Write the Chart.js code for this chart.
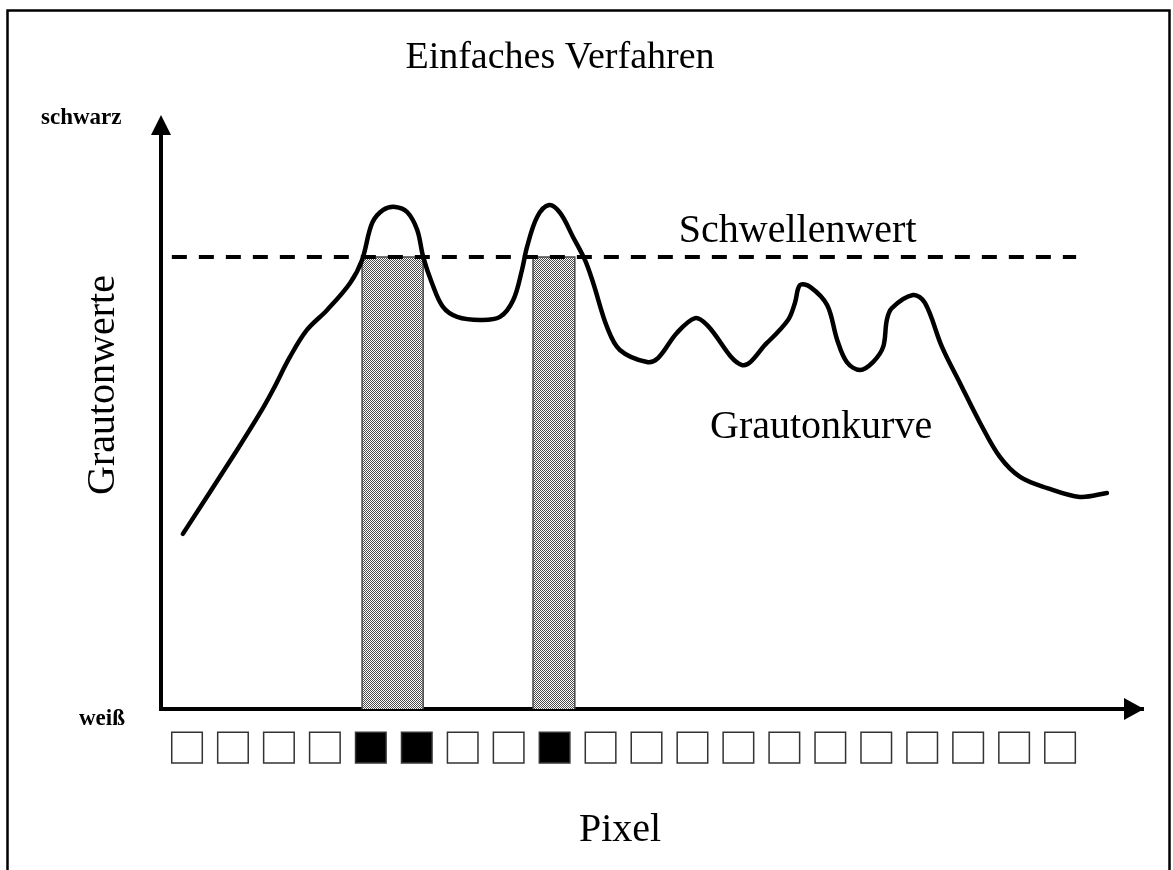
<!DOCTYPE html>
<html>
<head>
<meta charset="utf-8">
<script src="https://cdn.jsdelivr.net/npm/chart.js@4.4.1/dist/chart.umd.min.js"></script>
<style>
  html, body { margin: 0; padding: 0; background: #fff; overflow: hidden; }
</style>
</head>
<body>
<canvas id="chart" width="1173" height="870"></canvas>
<script>
/* Grautonkurve: position along the pixel row / grey level (0 = weiß, 255 = schwarz) */
const curvePos = [0.91, 2.09, 2.59, 2.87, 3.24, 3.61, 4.05, 4.55, 4.81, 5.03, 5.27, 5.53, 5.79, 6.01, 6.14,
  6.33, 6.57, 6.88, 7.38, 7.81, 8.10, 8.29, 8.40, 8.62, 8.88, 9.12, 9.40, 9.66, 9.84, 10.14, 10.42, 11.01,
  11.25, 11.66, 12.06, 12.32, 13.08, 13.62, 14.08, 14.23, 14.34, 14.56, 14.93, 15.15, 15.36, 15.65, 15.93,
  16.15, 16.23, 16.34, 16.80, 17.06, 17.43, 17.82, 18.26, 18.69, 19.13, 19.72, 20.43, 21.02];
const curveGray = [75.3, 111.4, 127.3, 137.2, 151.4, 163.0, 171.6, 183.2, 193.1, 209.0, 214.6, 215.9, 213.7, 206.0, 194.4,
  183.2, 172.9, 168.6, 167.3, 168.6, 175.9, 188.8, 198.7, 211.6, 216.7, 213.3, 203.0, 193.1, 183.2, 164.3, 154.4, 149.2,
  150.9, 161.7, 168.1, 165.1, 147.9, 157.4, 167.3, 174.6, 182.3, 181.5, 173.7, 158.7, 149.2, 145.8, 149.2,
  155.7, 167.3, 172.4, 178.0, 174.6, 155.7, 140.2, 123.0, 108.4, 99.8, 95.0, 91.2, 92.9];

/* Schwellenwert */
const threshold = 194.4;
const thresholdFrom = 0.67;
const thresholdTo = 20.35;

/* ranges where the curve lies above the threshold */
const aboveRanges = [[4.81, 6.14], [8.53, 9.44]];

/* pixel row: 1 = schwarz, 0 = weiß */
const pixelIndex = [1, 2, 3, 4, 5, 6, 7, 8, 9, 10, 11, 12, 13, 14, 15, 16, 17, 18, 19, 20];
const pixelState = [0, 0, 0, 0, 1, 1, 0, 0, 1, 0, 0, 0, 0, 0, 0, 0, 0, 0, 0, 0];
const pixelRowLevel = -16.6;

const grayMin = -34.83;
const grayMax = 255;

const serif = '"Liberation Serif", "Times New Roman", serif';

function hatch() {
  const c = document.createElement("canvas");
  c.width = 2; c.height = 2;
  const g = c.getContext("2d");
  g.fillStyle = "#ffffff"; g.fillRect(0, 0, 2, 2);
  g.fillStyle = "#4c4c4c";
  g.fillRect(0, 0, 1, 1); g.fillRect(1, 1, 1, 1);
  return g.createPattern(c, "repeat");
}
const hatchFill = hatch();

const barSets = aboveRanges.map(r => ({
  data: [{ x: r[0], y: 0 }, { x: r[0], y: threshold }, { x: r[1], y: threshold }, { x: r[1], y: 0 }],
  showLine: true, tension: 0, pointRadius: 0,
  borderColor: "#4a4a4a", borderWidth: 1.5,
  backgroundColor: hatchFill, fill: "origin"
}));

const decor = {
  id: "decor",
  beforeDraw(chart) {
    const { ctx, width, height } = chart;
    ctx.save();
    ctx.fillStyle = "#fff";
    ctx.fillRect(0, 0, width, height);
    ctx.restore();
  },
  afterDraw(chart) {
    const { ctx, chartArea: a, scales: { x, y } } = chart;
    const y0 = y.getPixelForValue(0);
    const yTop = y.getPixelForValue(grayMax);
    ctx.save();
    ctx.fillStyle = "#000";
    ctx.strokeStyle = "#000";

    // y axis with arrow head
    ctx.lineWidth = 4;
    ctx.beginPath();
    ctx.moveTo(a.left, y0 + 2);
    ctx.lineTo(a.left, yTop + 10);
    ctx.stroke();
    ctx.beginPath();
    ctx.moveTo(a.left, yTop - 1);
    ctx.lineTo(a.left - 10, yTop + 19);
    ctx.lineTo(a.left + 10, yTop + 19);
    ctx.closePath(); ctx.fill();

    // x axis arrow head
    ctx.beginPath();
    ctx.moveTo(a.right + 1, y0);
    ctx.lineTo(a.right - 19, y0 - 11);
    ctx.lineTo(a.right - 19, y0 + 11);
    ctx.closePath(); ctx.fill();

    // frame
    ctx.lineWidth = 2.5;
    ctx.strokeRect(7.5, 10.5, 1162, 900);

    // texts
    ctx.textAlign = "center";
    ctx.textBaseline = "alphabetic";
    ctx.font = "38px " + serif;
    ctx.fillText("Einfaches Verfahren", 560, 68);

    ctx.font = "40px " + serif;
    ctx.fillText("Schwellenwert", x.getPixelForValue(14.29), y.getPixelForValue(200.8));
    ctx.fillText("Grautonkurve", x.getPixelForValue(14.80), y.getPixelForValue(116.5));
    ctx.fillText("Pixel", 620, 841);

    ctx.save();
    ctx.translate(114, 385);
    ctx.rotate(-Math.PI / 2);
    ctx.fillText("Grautonwerte", 0, 0);
    ctx.restore();

    ctx.font = "bold 23px " + serif;
    ctx.textAlign = "left";
    ctx.fillText("schwarz", 41, 124);
    ctx.fillText("weiß", 79, 725);
    ctx.restore();
  }
};

new Chart(document.getElementById("chart").getContext("2d"), {
  type: "scatter",
  data: {
    datasets: [
      {
        label: "Grautonkurve",
        data: curvePos.map((p, i) => ({ x: p, y: curveGray[i] })),
        showLine: true, tension: 0.35, pointRadius: 0,
        borderColor: "#000", borderWidth: 4.5, fill: false,
        borderCapStyle: "round", borderJoinStyle: "round"
      },
      {
        label: "Schwellenwert",
        data: [{ x: thresholdFrom, y: threshold }, { x: thresholdTo, y: threshold }],
        showLine: true, pointRadius: 0,
        borderColor: "#000", borderWidth: 4, borderDash: [15, 12], fill: false
      },
      ...barSets,
      {
        label: "Pixel",
        data: pixelIndex.map(i => ({ x: i, y: pixelRowLevel })),
        showLine: false, clip: false,
        pointStyle: "rect", pointRadius: 21.6,
        pointBackgroundColor: pixelState.map(s => s ? "#000" : "#fff"),
        pointBorderColor: "#333", pointBorderWidth: 1.5
      }
    ]
  },
  options: {
    responsive: false,
    animation: false,
    events: [],
    layout: { autoPadding: false, padding: { left: 161, right: 30, top: 116, bottom: 80 } },
    plugins: { legend: { display: false }, tooltip: { enabled: false }, title: { display: false } },
    scales: {
      x: {
        type: "linear", min: 0.434, max: 21.805, z: 1,
        position: { y: 0 },
        ticks: { display: false },
        grid: { display: false, drawTicks: false },
        border: { display: true, color: "#000", width: 4 }
      },
      y: {
        type: "linear", min: grayMin, max: grayMax, z: 1,
        ticks: { display: false },
        grid: { display: false, drawTicks: false },
        border: { display: false }
      }
    }
  },
  plugins: [decor]
});
</script>
</body>
</html>
